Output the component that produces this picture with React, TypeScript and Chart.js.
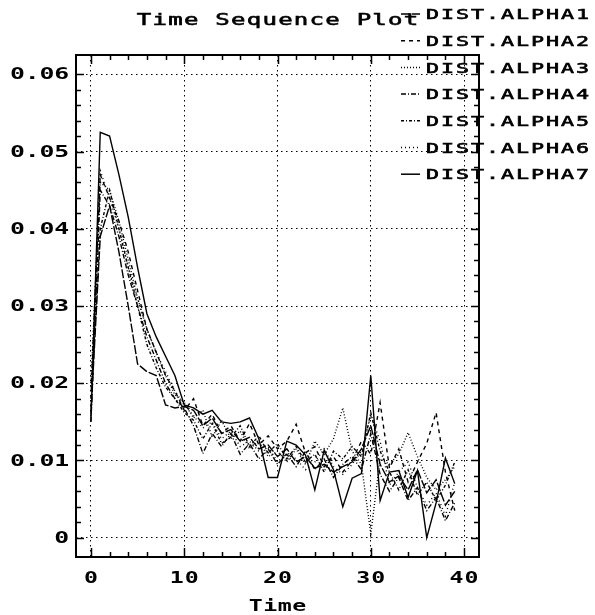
import React, { useEffect, useRef } from 'react';
import { Chart, registerables } from 'chart.js';

Chart.register(...registerables);

const chartTitle = 'Time Sequence Plot';
const xAxisTitle = 'Time';
const timeSteps = [0, 1, 2, 3, 4, 5, 6, 7, 8, 9, 10, 11, 12, 13, 14, 15, 16, 17, 18, 19, 20, 21, 22, 23, 24, 25, 26, 27, 28, 29, 30, 31, 32, 33, 34, 35, 36, 37, 38, 39];
const seriesNames = ['DIST.ALPHA1', 'DIST.ALPHA2', 'DIST.ALPHA3', 'DIST.ALPHA4', 'DIST.ALPHA5', 'DIST.ALPHA6', 'DIST.ALPHA7'];

const alpha1 = [0.016, 0.039, 0.043, 0.037, 0.03, 0.0225, 0.0215, 0.021, 0.0172, 0.0168, 0.017, 0.0165, 0.0145, 0.0155, 0.0135, 0.014, 0.0125, 0.013, 0.0115, 0.012, 0.0105, 0.0115, 0.0098, 0.0105, 0.009, 0.0095, 0.0085, 0.0092, 0.0098, 0.0115, 0.0145, 0.0095, 0.0072, 0.008, 0.0062, 0.0088, 0.0058, 0.0075, 0.0042, 0.006];
const alpha2 = [0.018, 0.047, 0.044, 0.041, 0.037, 0.032, 0.027, 0.024, 0.021, 0.019, 0.0165, 0.018, 0.0145, 0.016, 0.0135, 0.0145, 0.0125, 0.0148, 0.012, 0.0132, 0.0115, 0.0125, 0.0147, 0.011, 0.0118, 0.0092, 0.0105, 0.0085, 0.01, 0.0125, 0.0108, 0.0175, 0.009, 0.0115, 0.0072, 0.0098, 0.0122, 0.0162, 0.0085, 0.0035];
const alpha3 = [0.02, 0.046, 0.045, 0.041, 0.036, 0.031, 0.027, 0.024, 0.021, 0.0185, 0.0175, 0.0155, 0.0165, 0.013, 0.0152, 0.0128, 0.0138, 0.0115, 0.0125, 0.0105, 0.0112, 0.0098, 0.0115, 0.0095, 0.0125, 0.0108, 0.0128, 0.0168, 0.0112, 0.0095, 0.0005, 0.0102, 0.0095, 0.0108, 0.0136, 0.0105, 0.0078, 0.0062, 0.0075, 0.0092];
const alpha4 = [0.015, 0.045, 0.043, 0.039, 0.034, 0.03, 0.026, 0.023, 0.02, 0.018, 0.0168, 0.0145, 0.0109, 0.0135, 0.0118, 0.0135, 0.0108, 0.0122, 0.0102, 0.0115, 0.0095, 0.0108, 0.0092, 0.0112, 0.0088, 0.0102, 0.0078, 0.0095, 0.0105, 0.0088, 0.0135, 0.0082, 0.006, 0.0078, 0.0048, 0.0065, 0.0035, 0.0052, 0.0022, 0.0045];
const alpha5 = [0.017, 0.04, 0.045, 0.04, 0.035, 0.03, 0.025, 0.022, 0.0195, 0.018, 0.0162, 0.0152, 0.0128, 0.0148, 0.0122, 0.013, 0.0145, 0.0118, 0.0132, 0.011, 0.0122, 0.0102, 0.0118, 0.0098, 0.0108, 0.0085, 0.0112, 0.0102, 0.0118, 0.0105, 0.0162, 0.0112, 0.0085, 0.0062, 0.0088, 0.0055, 0.0072, 0.0048, 0.0068, 0.0098];
const alpha6 = [0.019, 0.0475, 0.044, 0.04, 0.035, 0.031, 0.027, 0.024, 0.0215, 0.019, 0.0172, 0.0158, 0.0142, 0.015, 0.0128, 0.0138, 0.0118, 0.0125, 0.0112, 0.0118, 0.0098, 0.011, 0.0102, 0.0088, 0.0098, 0.0115, 0.0092, 0.0082, 0.0095, 0.0112, 0.0158, 0.0125, 0.0068, 0.0085, 0.0098, 0.0065, 0.0042, 0.0058, 0.0028, 0.0072];
const alpha7 = [0.015, 0.0525, 0.052, 0.047, 0.0415, 0.035, 0.029, 0.026, 0.0235, 0.021, 0.0172, 0.0168, 0.016, 0.0165, 0.015, 0.0148, 0.015, 0.0155, 0.0128, 0.0078, 0.0078, 0.0125, 0.012, 0.0107, 0.0062, 0.0113, 0.0088, 0.004, 0.0077, 0.0083, 0.021, 0.0048, 0.0085, 0.0087, 0.0052, 0.0087, 0.0, 0.0045, 0.0103, 0.007];

const seriesValues = [alpha1, alpha2, alpha3, alpha4, alpha5, alpha6, alpha7];
const seriesDashes = [[9, 2], [4, 4], [1, 2], [5, 2, 1, 2], [3, 2, 1, 2], [1, 3], []];

const xTickValues = [0, 10, 20, 30, 40];
const xMinorTickValues = [0, 2, 4, 6, 8, 10, 12, 14, 16, 18, 20, 22, 24, 26, 28, 30, 32, 34, 36, 38, 40];
const yTickValues = [0, 0.01, 0.02, 0.03, 0.04, 0.05, 0.06];
const yMinorTickValues = [0, 0.002, 0.004, 0.006, 0.008, 0.01, 0.012, 0.014, 0.016, 0.018, 0.02, 0.022, 0.024, 0.026, 0.028, 0.03, 0.032, 0.034, 0.036, 0.038, 0.04, 0.042, 0.044, 0.046, 0.048, 0.05, 0.052, 0.054, 0.056, 0.058, 0.06];
const xTickLabels = ['0', '10', '20', '30', '40'];
const yTickLabels = ['0', '0.01', '0.02', '0.03', '0.04', '0.05', '0.06'];

const MONO = '"DejaVu Sans Mono", "Liberation Mono", monospace';

function drawMono(ctx: CanvasRenderingContext2D, text: string, x: number, y: number, align: string, pitch: number, sx: number, font: string, thicken = 0) {
  ctx.save();
  ctx.font = font;
  ctx.textAlign = 'center';
  ctx.textBaseline = 'middle';
  ctx.fillStyle = '#000';
  ctx.strokeStyle = '#000';
  ctx.setLineDash([]);
  const total = text.length * pitch;
  const x0 = align === 'left' ? x : align === 'right' ? x - total : x - total / 2;
  for (let i = 0; i < text.length; i++) {
    ctx.save();
    ctx.translate(x0 + pitch * (i + 0.5), y);
    ctx.scale(sx, 1);
    ctx.fillText(text[i], 0, 0);
    if (thicken > 0) {
      ctx.lineWidth = thicken;
      ctx.strokeText(text[i], 0, 0);
    }
    ctx.restore();
  }
  ctx.restore();
}

const decorPlugin = {
  id: 'decor',
  afterDraw(chart: any) {
    const ctx: CanvasRenderingContext2D = chart.ctx;
    const { left, right, top, bottom } = chart.chartArea;
    const xs = chart.scales.x;
    const ys = chart.scales.y;
    ctx.save();
    ctx.strokeStyle = '#000';
    ctx.setLineDash([]);
    ctx.lineWidth = 2;
    ctx.strokeRect(left, top, right - left, bottom - top);
    ctx.lineWidth = 1.5;
    ctx.beginPath();
    xMinorTickValues.forEach((v) => {
      const px = Math.round(xs.getPixelForValue(v)) + 0.5;
      const len = xTickValues.includes(v) ? 9 : 5;
      ctx.moveTo(px, bottom);
      ctx.lineTo(px, bottom - len);
      ctx.moveTo(px, top);
      ctx.lineTo(px, top + len);
    });
    yMinorTickValues.forEach((v) => {
      const py = Math.round(ys.getPixelForValue(v)) + 0.5;
      const len = yTickValues.includes(v) ? 8 : 5;
      ctx.moveTo(left, py);
      ctx.lineTo(left + len, py);
      ctx.moveTo(right, py);
      ctx.lineTo(right - len, py);
    });
    ctx.stroke();
    ctx.restore();

    const tickFont = 'bold 16px ' + MONO;
    yTickValues.forEach((v, i) => {
      drawMono(ctx, yTickLabels[i], left - 7, ys.getPixelForValue(v) + 1, 'right', 14.7, 1.55, tickFont);
    });
    xTickValues.forEach((v, i) => {
      drawMono(ctx, xTickLabels[i], xs.getPixelForValue(v), bottom + 22, 'center', 15, 1.45, tickFont);
    });

    drawMono(ctx, xAxisTitle, (left + right) / 2, 607, 'center', 14.5, 1.45, 'bold 16px ' + MONO);

    drawMono(ctx, chartTitle, (left + right) / 2, 21, 'center', 15.7, 1.5, '16px ' + MONO, 0.6);

    chart.data.datasets.forEach((ds: any, i: number) => {
      const ry = 15 + i * 26.7;
      ctx.save();
      ctx.strokeStyle = '#000';
      ctx.lineWidth = 1.5;
      ctx.setLineDash(ds.borderDash || []);
      ctx.beginPath();
      ctx.moveTo(401, ry - 1);
      ctx.lineTo(420, ry - 1);
      ctx.stroke();
      ctx.restore();
      drawMono(ctx, ds.label, 425, ry + 0.5, 'left', 15, 1.55, '14px ' + MONO, 0.6);
    });
  },
};

export default function App() {
  const canvasRef = useRef<HTMLCanvasElement>(null);
  useEffect(() => {
    document.body.style.margin = '0';
    const canvas = canvasRef.current;
    if (!canvas) return;
    const datasets = seriesNames.map((name, si) => ({
      label: name,
      data: timeSteps.map((t, i) => ({ x: t, y: seriesValues[si][i] })),
      borderColor: '#000',
      backgroundColor: '#000',
      borderWidth: 1.4,
      borderDash: seriesDashes[si],
      pointRadius: 0,
      tension: 0,
      fill: false,
    }));
    const chart = new Chart(canvas, {
      type: 'line',
      data: { datasets },
      options: {
        responsive: false,
        animation: false,
        devicePixelRatio: 1,
        layout: { padding: { left: 0, top: 55, right: 116, bottom: 0 } },
        plugins: {
          legend: { display: false },
          title: { display: false },
          tooltip: { enabled: false },
        },
        scales: {
          x: {
            type: 'linear',
            min: -1.6,
            max: 41.6,
            afterBuildTicks: (s: any) => {
              s.ticks = xTickValues.map((v) => ({ value: v }));
            },
            afterFit: (s: any) => {
              s.height = 58;
            },
            ticks: { display: false },
            grid: { color: '#000', lineWidth: 1, drawTicks: false },
            border: { display: false, dash: [1.5, 3.5] },
          },
          y: {
            type: 'linear',
            min: -0.0025,
            max: 0.0625,
            afterBuildTicks: (s: any) => {
              s.ticks = yTickValues.map((v) => ({ value: v }));
            },
            afterFit: (s: any) => {
              s.width = 76;
            },
            ticks: { display: false },
            grid: { color: '#000', lineWidth: 1, drawTicks: false },
            border: { display: false, dash: [1.5, 3.5] },
          },
        },
      },
      plugins: [decorPlugin],
    } as any);
    return () => chart.destroy();
  }, []);
  return (
    <div style={{ width: 595, height: 615, background: '#fff' }}>
      <canvas ref={canvasRef} width={595} height={615} style={{ display: 'block' }} />
    </div>
  );
}
